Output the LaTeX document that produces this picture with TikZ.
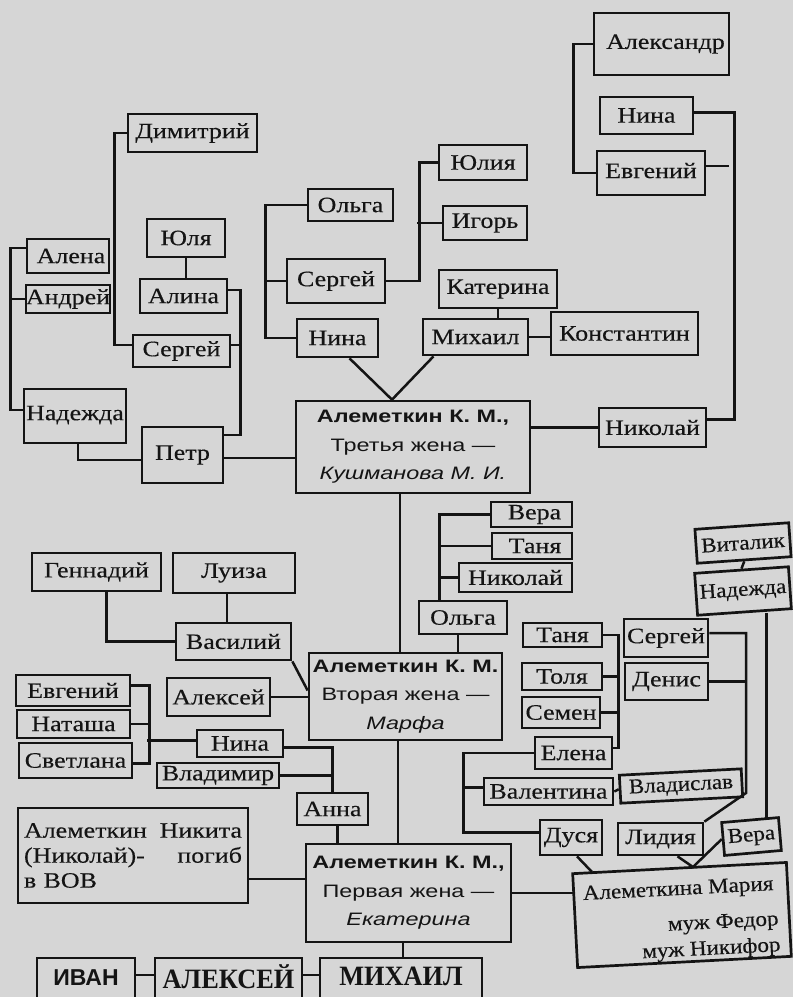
\documentclass[tikz,border=0pt]{standalone}
\usepackage{fontspec}
\setmainfont[FakeStretch=1.18,FakeBold=0.3]{Liberation Serif}
\newfontfamily\mfam[FakeStretch=1.1,FakeBold=0.3]{Liberation Serif}
\newfontfamily\ssfam[FakeStretch=1.3]{Liberation Sans}
\newfontfamily\ivanfam{Liberation Sans}
\newfontfamily\bigserfam[FakeStretch=0.94]{Liberation Serif}
\usetikzlibrary{calc}
\definecolor{bg}{RGB}{214,214,214}
\definecolor{ink}{RGB}{20,20,20}
\newcommand\nm{\fontsize{22}{25}\selectfont}
\newcommand\mnm{\mfam\fontsize{21}{25}\selectfont}
\newcommand\ssf{\ssfam\fontsize{18}{28.5}\selectfont}
\newcommand\bx[7][]{\node[box,minimum width={#5-#3},minimum height={#6-#4},#1] (#2) at ({(#3+#5)/2},{(#4+#6)/2}) {#7};}
\tikzset{
  box/.style={draw=ink,line width=2.7pt,fill=bg,inner sep=0pt,text=ink,font=\nm},
  ln/.style={draw=ink,line width=2.5pt},
  kbox/.style={font=\ssf,align=center},
  bigb/.style={font=\bigserfam\bfseries\fontsize{28}{30}\selectfont},
}
\begin{document}
\begin{tikzpicture}[x=1pt,y=-1pt]
\path[use as bounding box,fill=bg] (0,0) rectangle (793,997);
% top-left group
\bx{dim}{128}{114}{257}{152}{Димитрий}
\bx{yulya}{147}{219}{225}{257}{Юля}
\bx{alina}{140}{279}{227}{313}{Алина}
\bx{alena}{27}{239}{109}{273}{\hspace*{6pt}Алена}
\bx{andrey}{26}{285}{110}{313}{Андрей}
\bx{sergeyL}{133}{335}{230}{367}{Сергей}
\bx{nadL}{24}{389}{126}{443}{\raisebox{6pt}{Надежда}}
\bx{petr}{142}{427}{223}{483}{Петр}
% top-middle group
\bx{olgaT}{308}{189}{393}{221}{Ольга}
\bx{sergeyM}{287}{259}{385}{303}{Сергей}
\bx{ninaM}{297}{319}{378}{357}{Нина}
\bx{yuliya}{439}{145}{527}{180}{Юлия}
\bx{igor}{443}{206}{527}{240}{Игорь}
\bx{katerina}{439}{270}{557}{308}{Катерина}
\bx{mikhail}{423}{319}{528}{355}{Михаил}
\bx{konst}{551}{312}{698}{355}{Константин}
% top-right group
\bx{alex}{594}{13}{729}{75}{\hspace*{8pt}Александр}
\bx{ninaR}{600}{97}{693}{134}{Нина}
\bx{evgR}{597}{151}{705}{195}{\raisebox{5pt}{Евгений}}
\bx{nikolayR}{599}{408}{706}{447}{Николай}
% third wife
\bx[kbox]{k3}{296}{401}{530}{493}{\textbf{Алеметкин К. М.,}\\Третья жена —\\\textit{Кушманова М. И.}}
% lower-left
\bx{genn}{32}{553}{161}{591}{Геннадий}
\bx{luiza}{173}{553}{295}{593}{\raisebox{3pt}{Луиза}}
\bx{vasiliy}{176}{623}{291}{660}{Василий}
\bx{aleksey}{167}{678}{270}{716}{Алексей}
\bx{evgL}{16}{675}{130}{706}{Евгений}
\bx{natasha}{17}{710}{130}{738}{Наташа}
\bx{svetlana}{19}{743}{132}{778}{Светлана}
\bx{ninaL}{197}{730}{283}{757}{Нина}
\bx{vladimir}{157}{763}{279}{788}{Владимир}
\bx{anna}{297}{793}{368}{825}{Анна}
\bx[align=left,text width=218pt,font=\fontsize{22}{25}\selectfont]{nikita}{18}{808}{248}{903}{Алеметкин\hfill Никита\\(Николай)-\hfill погиб\\в ВОВ}
\bx[kbox]{k2}{309}{653}{502}{740}{\textbf{Алеметкин К. М.}\\Вторая жена —\\\textit{Марфа}}
\bx[kbox]{k1}{306}{844}{511}{942}{\textbf{Алеметкин К. М.,}\\Первая жена —\\\textit{Екатерина}}
% bottom row
\bx[font=\ivanfam\bfseries\fontsize{23}{26}\selectfont]{ivan}{37}{958}{135}{1012}{\raisebox{14pt}{ИВАН}}
\bx[bigb]{alekseyB}{155}{958}{302}{1012}{\raisebox{17pt}{АЛЕКСЕЙ}}
\bx[bigb]{mikhailB}{320}{958}{482}{1012}{\raisebox{17pt}{МИХАИЛ}}
% right-middle
\bx{vera1}{491}{502}{572}{527}{\hspace*{6pt}Вера}
\bx{tanya1}{492}{533}{572}{559}{\hspace*{6pt}Таня}
\bx{nikolayM}{459}{563}{572}{592}{Николай}
\bx{olgaM}{419}{601}{507}{634}{Ольга}
\bx{tanya2}{523}{623}{602}{647}{Таня}
\bx{tolya}{522}{663}{602}{690}{Толя}
\bx{semen}{522}{697}{600}{728}{Семен}
\bx{elena}{535}{737}{612}{769}{Елена}
\bx{sergeyR}{624}{619}{708}{657}{Сергей}
\bx{denis}{625}{663}{708}{700}{Денис}
\bx[rotate=4,font=\mnm]{vitalik}{696}{526}{790}{560}{Виталик}
\bx[rotate=4,font=\mnm]{nadR}{696}{570}{790}{612}{Надежда}
\bx{valentina}{484}{778}{613}{805}{Валентина}
\bx[rotate=3,font=\mnm]{vladislav}{620}{772}{742}{800}{Владислав}
\bx{dusya}{540}{820}{602}{855}{Дуся}
\bx{lidiya}{618}{823}{703}{855}{Лидия}
\bx[rotate=5,font=\mnm]{vera2}{723}{820}{780}{853}{Вера}
% Maria box
\bx[rotate=3]{maria}{575}{868}{789}{962}{}
\node[rotate=3,anchor=base west,font=\mnm,text=ink,inner sep=0pt] (mt1) at (583,900) {Алеметкина Мария};
\node[rotate=3,anchor=base east,font=\mnm,text=ink,inner sep=0pt] (mt2) at (779,925) {муж Федор};
\node[rotate=3,anchor=base east,font=\mnm,text=ink,inner sep=0pt] (mt3) at (781,951) {муж Никифор};
% ---- connectors ----
\draw[ln] (dim.west) -- ++(-12,0) |- ($(sergeyL.west)+(0,-6)$);
\draw[ln] ($(alena.west)+(0,-8)$) -- ++(-15,0) |- ($(nadL.west)+(0,-6)$);
\draw[ln] (andrey.west) -- ++(-14,0);
\draw[ln] (yulya.south) -- (yulya.south |- alina.north);
\draw[ln] ($(alina.east)+(0,-6)$) -- ++(12,0) |- ($(petr.east)+(0,-20)$);
\draw[ln] ($(sergeyL.east)+(0,-6)$) -- ++(9,0);
\draw[ln] ($(nadL.south)+(3,0)$) |- ($(petr.west)+(0,5)$);
\draw[ln] ($(petr.east)+(0,3)$) coordinate (pe) -- (pe -| k3.west);
\draw[ln] (olgaT.west) -- ++(-41,0) |- (ninaM.west);
\draw[ln] (sergeyM.west) -- ++(-20,0);
\draw[ln] (sergeyM.east) -- ++(33,0) |- (yuliya.west);
\draw[ln] (igor.west) -- ++(-25,0);
\draw[ln] (katerina.south) -- (katerina.south |- mikhail.north);
\draw[ln] (mikhail.east) coordinate (me) -- (me -| konst.west);
\coordinate (apex3) at ($(k3.north)+(-21,0)$);
\draw[ln] ($(ninaM.south)+(12,0)$) -- (apex3) -- ($(mikhail.south)+(-42,0)$);
\draw[ln] (nikolayR.west) coordinate (nw) -- (nw -| k3.east);
\draw[ln] ($(nikolayR.east)+(0,-8)$) -- ++(27,0) |- ($(ninaR.east)+(0,-3)$);
\draw[ln] ($(evgR.east)+(0,-7)$) -- ++(23,0);
\draw[ln] (alex.west) -- ++(-19,0) |- (evgR.west);
\draw[ln] ($(k3.south)+(-13,0)$) coordinate (k3s) -- (k3s |- k2.north);
\draw[ln] ($(genn.south)+(10,0)$) |- (vasiliy.west);
\draw[ln] ($(luiza.south)+(-7,0)$) coordinate (ls) -- (ls |- vasiliy.north);
\draw[ln] (vasiliy.south east) -- ($(k2.west)+(0,-6)$);
\draw[ln] (aleksey.east) coordinate (ae) -- (ae -| k2.west);
\draw[ln] ($(evgL.east)+(0,-5)$) -- ++(18,0) |- ($(svetlana.east)+(0,3)$);
\draw[ln] (natasha.east) -- ++(18,0);
\draw[ln] ($(ninaL.west)+(0,-3)$) -- ++(-49,0);
\draw[ln] ($(ninaL.east)+(0,4)$) -| (anna.north);
\draw[ln] (vladimir.east) -- ++(54,0);
\draw[ln] ($(anna.south)+(5,0)$) coordinate (as) -- (as |- k1.north);
\draw[ln] ($(k2.south)+(-7.5,0)$) coordinate (k2s) -- (k2s |- k1.north);
\draw[ln] ($(nikita.east)+(0,23.5)$) coordinate (ne) -- (ne -| k1.west);
\draw[ln] (k1.east) coordinate (k1e) -- (k1e -| maria.west);
\draw[ln] ($(k1.south)+(-5.5,0)$) coordinate (k1s) -- (k1s |- mikhailB.north);
\draw[ln] ($(ivan.east)+(0,-10)$) coordinate (ie) -- (ie -| alekseyB.west);
\draw[ln] ($(alekseyB.east)+(0,-10)$) coordinate (xe) -- (xe -| mikhailB.west);
\draw[ln] ($(olgaM.north west)+(22,0)$) |- (vera1.west);
\draw[ln] (tanya1.west) -- ++(-51,0);
\draw[ln] (nikolayM.west) -- ++(-18,0);
\draw[ln] ($(olgaM.south)+(-5,0)$) coordinate (os) -- (os |- k2.north);
\draw[ln] (tanya2.east) -- ++(15,0) |- ($(elena.east)+(0,-5)$);
\draw[ln] (tolya.east) -- ++(15,0);
\draw[ln] (semen.east) -- ++(17,0);
\draw[ln] (elena.west) -- ++(-70,0) |- ($(dusya.west)+(0,-5)$);
\draw[ln] ($(valentina.west)+(0,-4)$) -- ++(-19,0);
\draw[ln] (valentina.east) -- (vladislav.west);
\coordinate (rbend) at (746,793);
\draw[ln] ($(sergeyR.east)+(0,-5)$) -| (rbend) -- (lidiya.north east);
\draw[ln] (denis.east) -- (denis.east -| rbend);
\draw[ln] (vitalik.south) -- (nadR.north);
\draw[ln] ($(nadR.south)+(22,0)$) coordinate (ns) -- (ns |- vera2.north);
\coordinate (m1) at (592,872);
\coordinate (m2) at (693,867);
\draw[ln] ($(dusya.south)+(6,0)$) -- (m1);
\draw[ln] ($(lidiya.south)+(17,0)$) -- (m2) -- (vera2.west);
\end{tikzpicture}
\end{document}
